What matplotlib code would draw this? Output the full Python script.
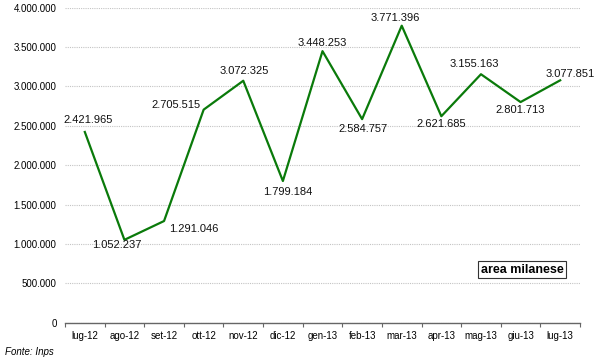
import matplotlib
matplotlib.use("Agg")
import matplotlib.pyplot as plt
import numpy as np

plt.rcParams["font.family"] = ["Liberation Sans", "DejaVu Sans"]

# dati
months = ["lug-12", "ago-12", "set-12", "ott-12", "nov-12", "dic-12", "gen-13",
          "feb-13", "mar-13", "apr-13", "mag-13", "giu-13", "lug-13"]
values = [2421965, 1052237, 1291046, 2705515, 3072325, 1799184, 3448253,
          2584757, 3771396, 2621685, 3155163, 2801713, 3077851]
yticks = [0, 500000, 1000000, 1500000, 2000000, 2500000, 3000000, 3500000, 4000000]
ytick_labels = ["0", "500.000", "1.000.000", "1.500.000", "2.000.000",
                "2.500.000", "3.000.000", "3.500.000", "4.000.000"]

# spostamento etichette (pixel: dx, dy verso il basso)
label_offsets = [(3, -12), (-8, 5), (30, 8), (-28, -5), (1, -10), (5, 11), (0, -8),
                 (1, 10), (-6, -8), (0, 8), (-7, -10), (0, 8), (10, -6)]


def fmt(v):
    return f"{v:,}".replace(",", ".")


fig = plt.figure(figsize=(6, 3.61), dpi=100)
ax = fig.add_axes([65 / 600, 38.3 / 361, 515 / 600, 315 / 361])

x = np.arange(len(months))
ax.plot(x, values, color="#0a7a0a", linewidth=1.6, zorder=3)

for xi, v, (dx, dy) in zip(x, values, label_offsets):
    ax.annotate(fmt(v), (xi, v), xytext=(dx, -dy), textcoords="offset pixels",
                ha="center", va="center", fontsize=8, color="#111111")

ax.set_xlim(-0.5, len(months) - 0.5)
ax.set_ylim(0, 4000000)
ax.set_yticks(yticks)
ax.set_yticklabels(ytick_labels, fontsize=7)
ax.tick_params(axis="y", length=0, pad=6)

# tacche tra le categorie, etichette al centro
ax.set_xticks(np.arange(-0.5, len(months), 1.0))
ax.set_xticklabels([])
ax.set_xticks(x, minor=True)
ax.set_xticklabels(months, minor=True, fontsize=7)
ax.tick_params(axis="x", which="major", length=3, color="#666666", direction="out")
ax.tick_params(axis="x", which="minor", length=0, pad=6)

ax.grid(axis="y", color="#c4c4c4", linestyle=(0, (1, 1)), linewidth=0.8)
ax.set_axisbelow(True)
for s in ["top", "right", "left"]:
    ax.spines[s].set_visible(False)
ax.spines["bottom"].set_color("#666666")
ax.spines["bottom"].set_linewidth(1)

ax.text(0.888, 0.168, "area milanese", transform=ax.transAxes, ha="center",
        va="center", fontsize=9, fontweight="bold",
        bbox=dict(boxstyle="square,pad=0.2", facecolor="white", edgecolor="#333333",
                  linewidth=0.8))

fig.text(5 / 600, 1 - 352 / 361, "Fonte: Inps", fontsize=7, style="italic",
         ha="left", va="center")

fig.savefig("out.png", dpi=100)
